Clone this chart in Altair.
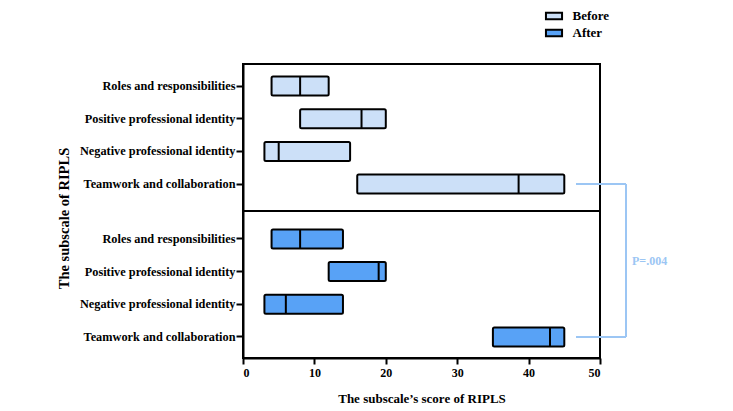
import altair as alt
import pandas as pd

subscales = ["Roles and responsibilities", "Positive professional identity",
             "Negative professional identity", "Teamwork and collaboration"]
groups = ["Before", "After"]
before_q1 = [4, 8, 3, 16]
before_median = [8, 16.6, 5, 38.6]
before_q3 = [12, 20, 15, 45]
after_q1 = [4, 12, 3, 35]
after_median = [8, 19, 6, 43]
after_q3 = [14, 20, 14, 45]
x_ticks = [0, 10, 20, 30, 40, 50]
p_label = "P=.004"
x_title = "The subscale\u2019s score of RIPLS"
y_title = "The subscale of RIPLS"
fills = ["#cce0f8", "#58a2f6"]
bracket_color = "#9cc6f4"

rows = []
for g, q1s, meds, q3s in [("Before", before_q1, before_median, before_q3),
                          ("After", after_q1, after_median, after_q3)]:
    for s, a, m, b in zip(subscales, q1s, meds, q3s):
        rows.append({"group": g, "subscale": s, "q1": a, "median": m, "q3": b})
df = pd.DataFrame(rows)

FONT = "Liberation Serif"
W, H = 357, 147

xscale = alt.Scale(domain=[0, 50], nice=False, zero=True)
color = alt.Color(
    "group:N",
    scale=alt.Scale(domain=groups, range=fills),
    legend=alt.Legend(
        title=None, orient="none", legendX=303, legendY=-56,
        symbolType="M-1.15,-0.45H1.15V0.45H-1.15Z", symbolSize=196,
        symbolStrokeColor="black", symbolStrokeWidth=2,
        labelFont=FONT, labelFontSize=13, labelFontWeight="bold",
        labelColor="black", labelOffset=10.5, rowPadding=1,
    ),
)


def panel(group, align, bottom):
    base = alt.Chart(df).transform_filter(alt.datum.group == group)
    ykw = dict(labelFont=FONT, labelFontSize=12.3, labelFontWeight="bold",
               labelColor="black", tickSize=7, labelPadding=1)
    if bottom:
        ykw["title"] = None
    else:
        ykw.update(title=y_title, titleFont=FONT, titleFontSize=14.5,
                   titleFontWeight="bold", titleColor="black",
                   titleY=154, titlePadding=8)
    y = alt.Y("subscale:N", sort=subscales,
              scale=alt.Scale(paddingInner=0, paddingOuter=0.25, align=align),
              axis=alt.Axis(**ykw))
    if bottom:
        xaxis = alt.Axis(values=x_ticks, title=x_title, labelFont=FONT,
                         labelFontSize=12, labelFontWeight="bold",
                         labelColor="black", tickSize=6, labelPadding=3,
                         titleFont=FONT, titleFontSize=13, titleFontWeight="bold",
                         titleColor="black", titlePadding=14)
    else:
        xaxis = None
    bars = base.mark_bar(size=19, stroke="black", strokeWidth=2,
                         cornerRadius=1.5).encode(
        x=alt.X("q1:Q", scale=xscale, axis=xaxis),
        x2="q3:Q",
        y=y,
        color=color,
    )
    med = base.mark_tick(size=19, thickness=2, color="black", opacity=1).encode(
        x=alt.X("median:Q", scale=xscale),
        y=y,
    )
    team = base.transform_filter(alt.datum.subscale == subscales[3])
    hrule = team.mark_rule(color=bracket_color, strokeWidth=2).encode(
        y=y, x=alt.value(333), x2=alt.value(383))
    vrule = team.mark_rule(color=bracket_color, strokeWidth=2).encode(
        y=y, y2=alt.value(0 if bottom else H), x=alt.value(383))
    layers = [bars, med, hrule, vrule]
    if bottom:
        txt = team.mark_text(text=p_label, align="left", baseline="middle",
                             font=FONT, fontSize=12, fontWeight="bold",
                             color=bracket_color).encode(
            x=alt.value(389), y=alt.value(50))
        layers.append(txt)
    return alt.layer(*layers).properties(width=W, height=H)


top = panel("Before", 0.35, False)
bottom = panel("After", 0.71, True)

chart = alt.vconcat(top, bottom, spacing=0, bounds="flush").resolve_scale(
    y="independent", color="shared"
).properties(
    padding={"left": 47, "top": 0, "right": 5, "bottom": 5}
).configure_view(
    stroke="black", strokeWidth=2
).configure_axis(
    grid=False, domainColor="black", domainWidth=2,
    tickColor="black", tickWidth=2
)

chart.save("out.html", embed_options={"renderer": "svg", "actions": False})
